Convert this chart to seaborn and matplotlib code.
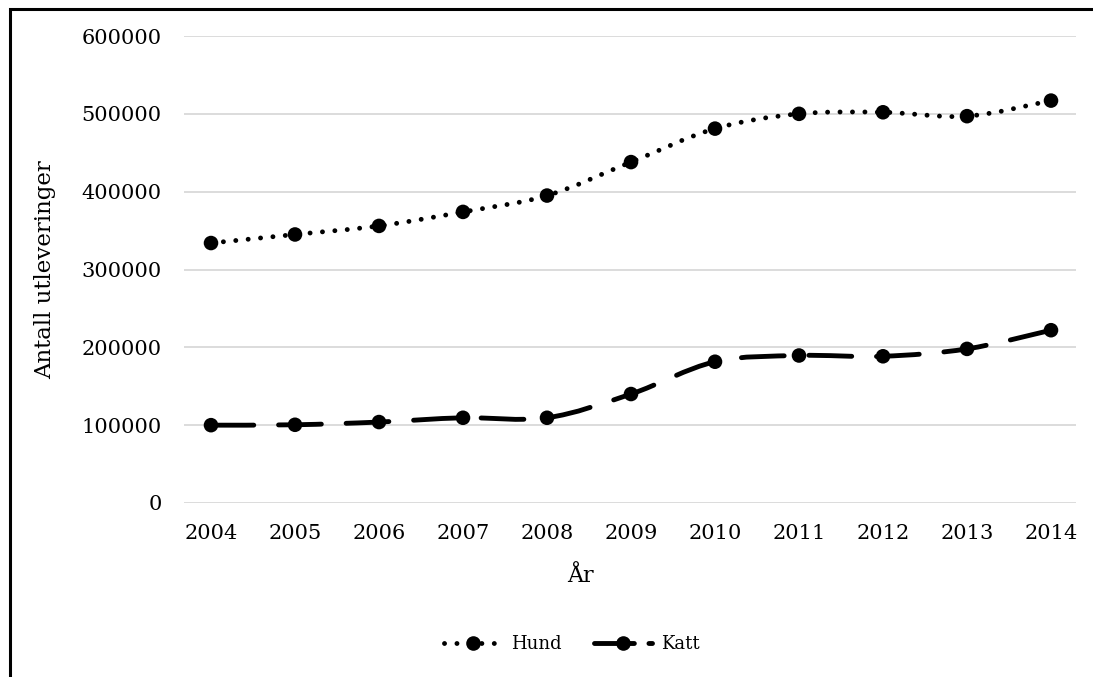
import numpy as np
import pandas as pd
import matplotlib
matplotlib.use("Agg")
import matplotlib.pyplot as plt
import seaborn as sns
from matplotlib.path import Path
from matplotlib.patches import PathPatch, Rectangle
from matplotlib.lines import Line2D

# Antall utleveringer per år
years = [2004, 2005, 2006, 2007, 2008, 2009, 2010, 2011, 2012, 2013, 2014]
hund = [334000, 345000, 356000, 374000, 395000, 438000, 481000, 500000, 502000, 497000, 517000]
katt = [100000, 100500, 104000, 109500, 109500, 140000, 181500, 189500, 188500, 198000, 222000]
series_names = ["Hund", "Katt"]
y_ticks = [0, 100000, 200000, 300000, 400000, 500000, 600000]

W, H = 1093, 677
sns.set_theme(style="white")
plt.rcParams["font.family"] = ["DejaVu Serif"]
plt.rcParams["text.color"] = "black"

df = pd.DataFrame({
    "År": years * 2,
    "Antall": hund + katt,
    "Dyr": ["Hund"] * len(years) + ["Katt"] * len(years),
})

fig = plt.figure(figsize=(W / 100, H / 100), dpi=100)
ax = fig.add_axes([184 / W, 1 - 503 / H, (1076 - 184) / W, (503 - 36) / H])

LW = 3.5
styles = {
    "Hund": (0, (0.01, 2.55)),
    "Katt": (0, (8.8, 5.1)),
}
legend_styles = {
    "Hund": (0, (0.01, 2.55)),
    "Katt": (0, (8.2, 3.0)),
}


def smooth_path(x, y):
    """Cubic Bezier path through the points (Catmull-Rom style smoothing)."""
    pts = np.column_stack([np.asarray(x, float), np.asarray(y, float)])
    n = len(pts)
    verts = [pts[0]]
    codes = [Path.MOVETO]
    for i in range(n - 1):
        p0 = pts[i - 1] if i > 0 else pts[i]
        p3 = pts[i + 2] if i + 2 < n else pts[i + 1]
        c1 = pts[i] + (pts[i + 1] - p0) / 6.0
        c2 = pts[i + 1] - (p3 - pts[i]) / 6.0
        verts += [c1, c2, pts[i + 1]]
        codes += [Path.CURVE4] * 3
    return Path(verts, codes)


for name in series_names:
    sub = df[df["Dyr"] == name]
    patch = PathPatch(smooth_path(sub["År"], sub["Antall"]), fill=False,
                      edgecolor="black", linewidth=LW, linestyle=styles[name],
                      capstyle="round", joinstyle="round", zorder=3)
    ax.add_patch(patch)

sns.scatterplot(data=df, x="År", y="Antall", color="black", s=110,
                edgecolor="none", legend=False, zorder=4, ax=ax)

ax.set_xlim(2004 - 27 / 84, 2014 + 25 / 84)
ax.set_ylim(0, 600000)
ax.set_xticks(years)
ax.set_xticklabels([str(y) for y in years])
ax.set_yticks(y_ticks)
ax.set_yticklabels([str(v) for v in y_ticks])
ax.grid(axis="y", color="#d9d9d9", linewidth=1.3)
ax.grid(axis="x", visible=False)
ax.set_axisbelow(True)
for sp in ax.spines.values():
    sp.set_visible(False)
ax.tick_params(axis="both", length=0, labelsize=15, colors="black")
ax.tick_params(axis="y", pad=16)
ax.tick_params(axis="x", pad=15)

ax.set_xlabel("År", fontsize=16, color="black")
ax.set_ylabel("Antall utleveringer", fontsize=16.5, color="black")
ax.xaxis.set_label_coords((580 - 184) / (1076 - 184), (503 - 565) / (503 - 36))
ax.yaxis.set_label_coords((56 - 184) / (1076 - 184), 0.5)

handles = [
    Line2D([], [], color="black", linewidth=LW, linestyle=legend_styles[n],
           dash_capstyle="round", solid_capstyle="round",
           marker="o", markersize=10.5, markeredgewidth=0)
    for n in series_names
]
fig.legend(handles, series_names, loc="center",
           bbox_to_anchor=(572 / W, 1 - 644 / H), ncol=2, frameon=False,
           fontsize=13, handlelength=3.2, columnspacing=1.8, handletextpad=0.5)

# outer chart frame
fig.add_artist(Rectangle((10 / W, -0.5), 2.0, 1.5 - 8.5 / H,
                         transform=fig.transFigure, fill=False,
                         edgecolor="black", linewidth=2.2))

fig.savefig("out.png", dpi=100, facecolor="white")
